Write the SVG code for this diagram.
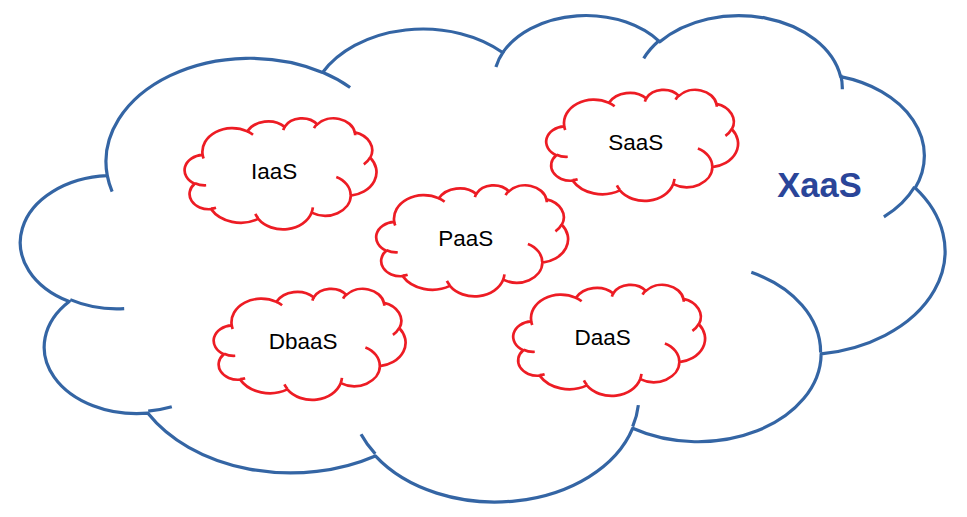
<svg xmlns="http://www.w3.org/2000/svg" xmlns:xlink="http://www.w3.org/1999/xlink" width="967" height="517" viewBox="0 0 967 517">
<style>
.big{fill:#fff;stroke:#3465a4;stroke-width:3.2}
.small{fill:#fff;stroke:#ed1c24;stroke-width:2.7}
.lbl{font-family:"Liberation Sans",Arial,sans-serif;font-size:22.5px;fill:#000;stroke:none;text-anchor:middle}
.title{font-family:"Liberation Sans",Arial,sans-serif;font-size:34.5px;font-weight:bold;fill:#2a4599;stroke:none;text-anchor:middle}
</style>
<defs>
<path id="cloudBody" vector-effect="non-scaling-stroke" stroke-linejoin="round" d="M3900 14370 A6753 9190 0 0 1 14007 5203 A5333 7267 0 0 1 22458 3433 A4365 5945 0 0 1 29835 2482 A4857 6595 0 0 1 38320 5577 A5333 7273 0 0 1 41820 15461 A6775 9220 0 0 1 37406 30205 A5785 7867 0 0 1 28558 36815 A6752 9215 0 0 1 16482 39267 A7720 10543 0 0 1 5807 35472 A4360 5918 0 0 1 2115 25550 A4345 5945 0 0 1 3900 14370 Z"/>
<path id="cloudTicks" vector-effect="non-scaling-stroke" fill="none" d="M4693 26177 A4345 5945 0 0 1 2160 25381 M6928 34899 A4360 5918 0 0 1 5820 35281 M16478 39090 A6752 9215 0 0 1 15810 37350 M28827 34751 A6752 9215 0 0 1 28560 36660 M34129 22954 A5785 7867 0 0 1 37380 30089 M41798 15354 A5333 7273 0 0 1 40351 18029 M38324 5426 A4857 6595 0 0 1 38400 6690 M29078 3952 A4857 6595 0 0 1 29820 2340 M22141 4720 A4365 5945 0 0 1 22500 3330 M14000 5192 A6753 9190 0 0 1 15298 6539 M4127 15789 A6753 9190 0 0 1 3900 14370"/>
</defs>

<g id="xaas" class="big">
  <g transform="translate(24.2,13.9) scale(0.021305,0.011257)">
    <use xlink:href="#cloudBody" href="#cloudBody"/>
    <use xlink:href="#cloudTicks" href="#cloudTicks"/>
  </g>
  <text class="title" x="819.5" y="197.3">XaaS</text>
</g>

<g id="iaas" class="small">
  <g transform="translate(185.4,118) scale(0.0044213,0.0025694)">
    <use href="#cloudBody"/>
    <use href="#cloudTicks"/>
  </g>
  <text class="lbl" x="274.1" y="178.8">IaaS</text>
</g>

<g id="saas" class="small">
  <g transform="translate(547,89.5) scale(0.0044213,0.0025694)">
    <use href="#cloudBody"/>
    <use href="#cloudTicks"/>
  </g>
  <text class="lbl" x="635.7" y="150.3">SaaS</text>
</g>

<g id="paas" class="small">
  <g transform="translate(377,185) scale(0.0044213,0.0025694)">
    <use href="#cloudBody"/>
    <use href="#cloudTicks"/>
  </g>
  <text class="lbl" x="465.7" y="245.8">PaaS</text>
</g>

<g id="dbaas" class="small">
  <g transform="translate(214.5,288.5) scale(0.0044213,0.0025694)">
    <use href="#cloudBody"/>
    <use href="#cloudTicks"/>
  </g>
  <text class="lbl" x="303.2" y="349.3">DbaaS</text>
</g>

<g id="daas" class="small">
  <g transform="translate(514,284.5) scale(0.0044213,0.0025694)">
    <use href="#cloudBody"/>
    <use href="#cloudTicks"/>
  </g>
  <text class="lbl" x="602.7" y="345.3">DaaS</text>
</g>

<g id="connectors"/>
</svg>
